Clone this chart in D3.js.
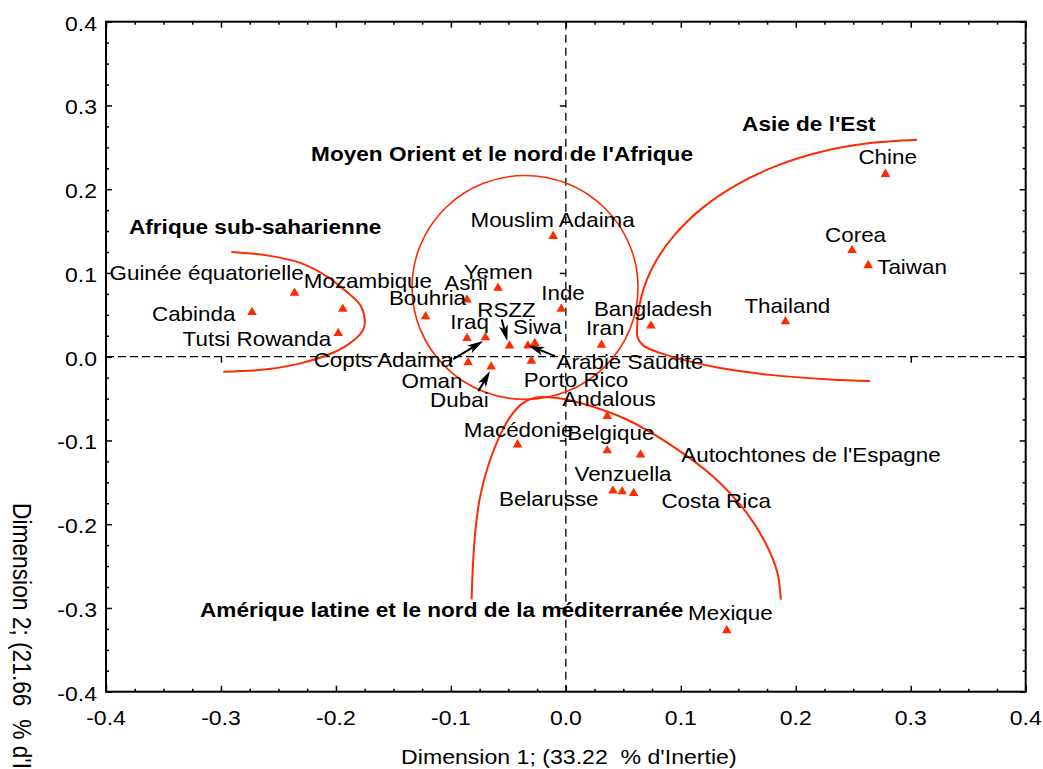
<!DOCTYPE html>
<html lang="fr">
<head>
<meta charset="UTF-8">
<title>Analyse des correspondances - Dimension 1 x Dimension 2</title>
<style>
  body { margin: 0; background: #fff; }
  text { font-family: "Liberation Sans", Arial, sans-serif; fill: #000; }
</style>
</head>
<body>
<div id="chart"></div>
<script src="https://cdn.jsdelivr.net/npm/d3@7"></script>
<script>
// --- data (coordinates) ---
const names = ["Chine", "Corea", "Taiwan", "Thailand", "Bangladesh", "Iran", "Inde",
  "Mouslim Adaima", "Yemen", "Asni", "Bouhria", "Iraq", "Copts Adaima", "RSZZ",
  "Arabie Saudite", "Siwa", "Porto Rico", "Oman", "Dubai", "Andalous", "Belgique",
  "Autochtones de l'Espagne", "Macédonie", "Belarusse", "Venzuella", "Costa Rica",
  "Mexique", "Guinée équatorielle", "Cabinda", "Mozambique", "Tutsi Rowanda"];
const dim1 = [0.278, 0.249, 0.263, 0.191, 0.074, 0.031, -0.004,
  -0.011, -0.059, -0.086, -0.122, -0.086, -0.070, -0.049,
  -0.033, -0.027, -0.030, -0.085, -0.065, 0.036, 0.036,
  0.065, -0.042, 0.041, 0.049, 0.059,
  0.140, -0.236, -0.273, -0.194, -0.198];
const dim2 = [0.218, 0.127, 0.109, 0.042, 0.037, 0.014, 0.057,
  0.144, 0.082, 0.068, 0.048, 0.022, 0.023, 0.013,
  0.013, 0.016, -0.005, -0.007, -0.012, -0.071, -0.112,
  -0.117, -0.105, -0.160, -0.161, -0.163,
  -0.327, 0.076, 0.053, 0.057, 0.028];

const axisTicks = [-0.4, -0.3, -0.2, -0.1, 0, 0.1, 0.2, 0.3, 0.4];
const zeroLineTicks = [-0.3, -0.1, 0.1, 0.3];

// group outlines, in plot units
const afriqueOutline = [[-0.291, 0.125], [-0.260, 0.121], [-0.231, 0.112], [-0.208, 0.096],
  [-0.191, 0.078], [-0.179, 0.062], [-0.175, 0.045], [-0.176, 0.033], [-0.185, 0.019],
  [-0.202, 0.005], [-0.231, -0.008], [-0.260, -0.015], [-0.298, -0.018]];
const asieOutline = [[0.3055, 0.2591], [0.2632, 0.2548], [0.2222, 0.2447], [0.1837, 0.2281],
  [0.1489, 0.2055], [0.1189, 0.1777], [0.0946, 0.1454], [0.0766, 0.1097], [0.0657, 0.0718],
  [0.0619, 0.0326], [0.0624, 0.0230], [0.0672, 0.0135], [0.0819, 0.0045], [0.1054, -0.0050],
  [0.1342, -0.0134], [0.1776, -0.0217], [0.2298, -0.0271], [0.2646, -0.0289]];
const ameriqueOutline = [[-0.082, -0.290], [-0.081, -0.254], [-0.079, -0.212], [-0.075, -0.170],
  [-0.068, -0.132], [-0.059, -0.099], [-0.049, -0.073], [-0.038, -0.056], [-0.027, -0.049],
  [-0.009, -0.049], [0.012, -0.055], [0.053, -0.075], [0.093, -0.107], [0.128, -0.143],
  [0.157, -0.186], [0.175, -0.226], [0.184, -0.258], [0.187, -0.290]];
const moyenOrientEllipse = {cx: -0.0355, cy: 0.0827, rx: 0.0983, ry: 0.1337};

const groupTitles = [
  {text: "Afrique sub-saharienne", x: -0.380, y: 0.146},
  {text: "Moyen Orient et le nord de l'Afrique", x: -0.2216, y: 0.2332},
  {text: "Asie de l'Est", x: 0.1533, y: 0.2699},
  {text: "Amérique latine et le nord de la méditerranée", x: -0.3182, y: -0.3113}
];

// arrows from crowded labels to their points: [x1, y1, x2, y2]
const arrows = [
  [-0.098, -0.003, -0.072, 0.0186],
  [-0.0558, 0.0445, -0.0509, 0.0186],
  [-0.0094, 0.0007, -0.0326, 0.0135],
  [-0.0761, -0.0411, -0.0659, -0.0172]
];

// label offsets in px from the point (left edge, baseline)
const labelOffset = {
  "Chine": [-27, -10.5], "Corea": [-27, -8], "Taiwan": [9, 9], "Thailand": [-41, -9],
  "Bangladesh": [-57, -9.3], "Iran": [-15.6, -10.3], "Inde": [-20, -9.3],
  "Mouslim Adaima": [-82.7, -9.4], "Yemen": [-34.3, -9], "Asni": [-22.7, -10],
  "Bouhria": [-36.7, -11.6], "Iraq": [-16.7, -9.3], "Copts Adaima": [-171.7, 29.2],
  "RSZZ": [-32.3, -28.4], "Arabie Saudite": [28.7, 23.3], "Siwa": [-21.7, -9],
  "Porto Rico": [-7.7, 26.6], "Oman": [-66.6, 25], "Dubai": [-61, 40.6],
  "Andalous": [-45, -10], "Belgique": [-40, -10.7], "Autochtones de l'Espagne": [40.7, 7.4],
  "Macédonie": [-53.7, -8], "Belarusse": [-114, 15], "Venzuella": [-47.7, -10.3],
  "Costa Rica": [27.7, 14.3], "Mexique": [-38.7, -11], "Guinée équatorielle": [-185, -13],
  "Cabinda": [-100, 8.2], "Mozambique": [-39, -20.7], "Tutsi Rowanda": [-155.6, 13.2]
};

const points = names.map((n, i) => ({name: n, x: dim1[i], y: dim2[i]}));

// --- chart ---
const W = 1043, H = 769;
const RED = "#ff2a00";
const FONT = 20, SX = 1.12;

const x = d3.scaleLinear().domain([-0.4, 0.4]).range([106, 1025.7]);
const y = d3.scaleLinear().domain([-0.4, 0.4]).range([691.7, 21.7]);

const svg = d3.select("#chart").append("svg")
    .attr("width", W).attr("height", H)
    .style("display", "block");

svg.append("rect").attr("width", W).attr("height", H).attr("fill", "#fff");

const minor = d3.range(-16, 17).map(i => i / 40).filter((d, i) => i % 4 !== 0);
const fmt = d => (Math.abs(d) < 1e-9 ? 0 : d).toFixed(1);

function tickAxis(axis, translate) {
    svg.append("g")
        .attr("transform", translate)
        .call(axis)
        .call(g => g.select(".domain").remove())
        .call(g => g.selectAll("line").attr("stroke", "#000").attr("stroke-width", 1.5));
}

// major + minor ticks on all four sides, pointing inward
tickAxis(d3.axisBottom(x).tickValues(axisTicks).tickSize(-6).tickFormat(""), `translate(0,${y(-0.4)})`);
tickAxis(d3.axisBottom(x).tickValues(minor).tickSize(-3).tickFormat(""), `translate(0,${y(-0.4)})`);
tickAxis(d3.axisTop(x).tickValues(axisTicks).tickSize(-6).tickFormat(""), `translate(0,${y(0.4)})`);
tickAxis(d3.axisTop(x).tickValues(minor).tickSize(-3).tickFormat(""), `translate(0,${y(0.4)})`);
tickAxis(d3.axisLeft(y).tickValues(axisTicks).tickSize(-6).tickFormat(""), `translate(${x(-0.4)},0)`);
tickAxis(d3.axisLeft(y).tickValues(minor).tickSize(-3).tickFormat(""), `translate(${x(-0.4)},0)`);
tickAxis(d3.axisRight(y).tickValues(axisTicks).tickSize(-6).tickFormat(""), `translate(${x(0.4)},0)`);
tickAxis(d3.axisRight(y).tickValues(minor).tickSize(-3).tickFormat(""), `translate(${x(0.4)},0)`);

// frame
svg.append("rect")
    .attr("x", x(-0.4)).attr("y", y(0.4))
    .attr("width", x(0.4) - x(-0.4)).attr("height", y(-0.4) - y(0.4))
    .attr("fill", "none").attr("stroke", "#000").attr("stroke-width", 2);

// tick labels
svg.append("g").selectAll("text")
    .data(axisTicks)
    .join("text")
    .attr("transform", d => `translate(${x(d)},${y(-0.4) + 33}) scale(1.15,1)`)
    .attr("text-anchor", "middle")
    .attr("font-size", FONT)
    .text(fmt);

svg.append("g").selectAll("text")
    .data(axisTicks)
    .join("text")
    .attr("transform", d => `translate(${x(-0.4) - 9},${y(d) + 9}) scale(1.15,1)`)
    .attr("text-anchor", "end")
    .attr("font-size", FONT)
    .text(fmt);

// axis titles
svg.append("text")
    .attr("transform", `translate(${(x(-0.4) + x(0.4)) / 2 + 3},764) scale(1.155,1)`)
    .attr("text-anchor", "middle")
    .attr("font-size", FONT)
    .style("white-space", "pre")
    .text("Dimension 1; (33.22  % d'Inertie)");

svg.append("text")
    .attr("transform", `translate(12.5,503) rotate(90) scale(0.91,1)`)
    .attr("font-size", 25)
    .style("white-space", "pre")
    .text("Dimension 2; (21.66  % d'Inertie)");

// dashed zero lines with their small ticks
svg.append("line")
    .attr("x1", x(-0.4)).attr("x2", x(0.4))
    .attr("y1", y(0)).attr("y2", y(0))
    .attr("stroke", "#000").attr("stroke-width", 1.3).attr("stroke-dasharray", "8,4");
svg.append("line")
    .attr("x1", x(0)).attr("x2", x(0))
    .attr("y1", y(0.4)).attr("y2", y(-0.4))
    .attr("stroke", "#000").attr("stroke-width", 1.3).attr("stroke-dasharray", "8,5");
tickAxis(d3.axisBottom(x).tickValues(zeroLineTicks).tickSize(6).tickFormat(""), `translate(0,${y(0)})`);
tickAxis(d3.axisLeft(y).tickValues(zeroLineTicks).tickSize(6).tickFormat(""), `translate(${x(0)},0)`);

// group outlines
const outline = d3.line()
    .x(d => x(d[0]))
    .y(d => y(d[1]))
    .curve(d3.curveCatmullRom.alpha(0.5));

svg.append("g")
    .attr("fill", "none")
    .attr("stroke", RED)
    .attr("stroke-width", 2)
    .selectAll("path")
    .data([afriqueOutline, asieOutline, ameriqueOutline])
    .join("path")
    .attr("d", outline);

svg.append("ellipse")
    .attr("cx", x(moyenOrientEllipse.cx))
    .attr("cy", y(moyenOrientEllipse.cy))
    .attr("rx", x(moyenOrientEllipse.cx + moyenOrientEllipse.rx) - x(moyenOrientEllipse.cx))
    .attr("ry", y(moyenOrientEllipse.cy) - y(moyenOrientEllipse.cy + moyenOrientEllipse.ry))
    .attr("fill", "none")
    .attr("stroke", RED)
    .attr("stroke-width", 1.6);

// points
svg.append("g").selectAll("path")
    .data(points)
    .join("path")
    .attr("d", d3.symbol(d3.symbolTriangle, 40))
    .attr("transform", d => `translate(${x(d.x)},${y(d.y)})`)
    .attr("fill", RED);

// point labels
svg.append("g").selectAll("text")
    .data(points)
    .join("text")
    .attr("transform", d => {
        const o = labelOffset[d.name];
        return `translate(${x(d.x) + o[0]},${y(d.y) + o[1]}) scale(${SX},1)`;
    })
    .attr("font-size", FONT)
    .text(d => d.name);

// arrows
const ag = svg.append("g");
arrows.forEach(a => {
    const x1 = x(a[0]), y1 = y(a[1]), x2 = x(a[2]), y2 = y(a[3]);
    const len = Math.hypot(x2 - x1, y2 - y1);
    const ux = (x2 - x1) / len, uy = (y2 - y1) / len;
    const nx = -uy, ny = ux;
    const L = 16, w = 4.5, notch = 4;
    ag.append("line")
        .attr("x1", x1).attr("y1", y1)
        .attr("x2", x2 - ux * (L - notch)).attr("y2", y2 - uy * (L - notch))
        .attr("stroke", "#000").attr("stroke-width", 2);
    ag.append("path")
        .attr("d", `M${x2},${y2}` +
            `L${x2 - ux * L + nx * w},${y2 - uy * L + ny * w}` +
            `L${x2 - ux * (L - notch)},${y2 - uy * (L - notch)}` +
            `L${x2 - ux * L - nx * w},${y2 - uy * L - ny * w}Z`)
        .attr("fill", "#000");
});

// group titles
svg.append("g").selectAll("text")
    .data(groupTitles)
    .join("text")
    .attr("transform", d => `translate(${x(d.x)},${y(d.y)}) scale(1.13,1)`)
    .attr("font-size", FONT)
    .attr("font-weight", "bold")
    .text(d => d.text);
</script>
</body>
</html>
